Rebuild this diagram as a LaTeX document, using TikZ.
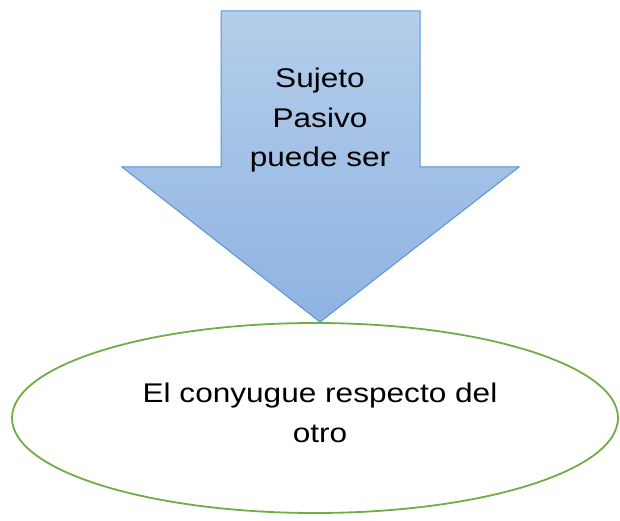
\documentclass[tikz,border=0pt]{standalone}
\usepackage{fontspec}
\setmainfont{Liberation Sans}
\newfontfamily\widefont[FakeStretch=1.17]{Liberation Sans}
\definecolor{arrtop}{HTML}{B5CEEA}
\definecolor{arrbot}{HTML}{8EB3E2}
\definecolor{arrline}{HTML}{5B93D3}
\definecolor{ellline}{HTML}{70AD47}
\tikzset{
  lbl/.style={align=center,font=\widefont\fontsize{27}{39.5}\selectfont,text=black,inner sep=0pt,anchor=base},
}
\begin{document}
\begin{tikzpicture}[x=1pt,y=-1pt]
\useasboundingbox (0,0) rectangle (620,521);
\draw[arrline,line width=1pt,top color=arrtop,bottom color=arrbot]
  (221,11) -- (420,11) -- (420,167) -- (519,167) -- (320,322) -- (122,167) -- (221,167) -- cycle;
\node[lbl] (top) at (320,166.7) {Sujeto\\Pasivo\\puede ser};
\draw[ellline,line width=1.8pt] (315,418) ellipse [x radius=303,y radius=95];
\node[lbl] (bot) at (320,442) {El conyugue respecto del\\otro};
\end{tikzpicture}
\end{document}
